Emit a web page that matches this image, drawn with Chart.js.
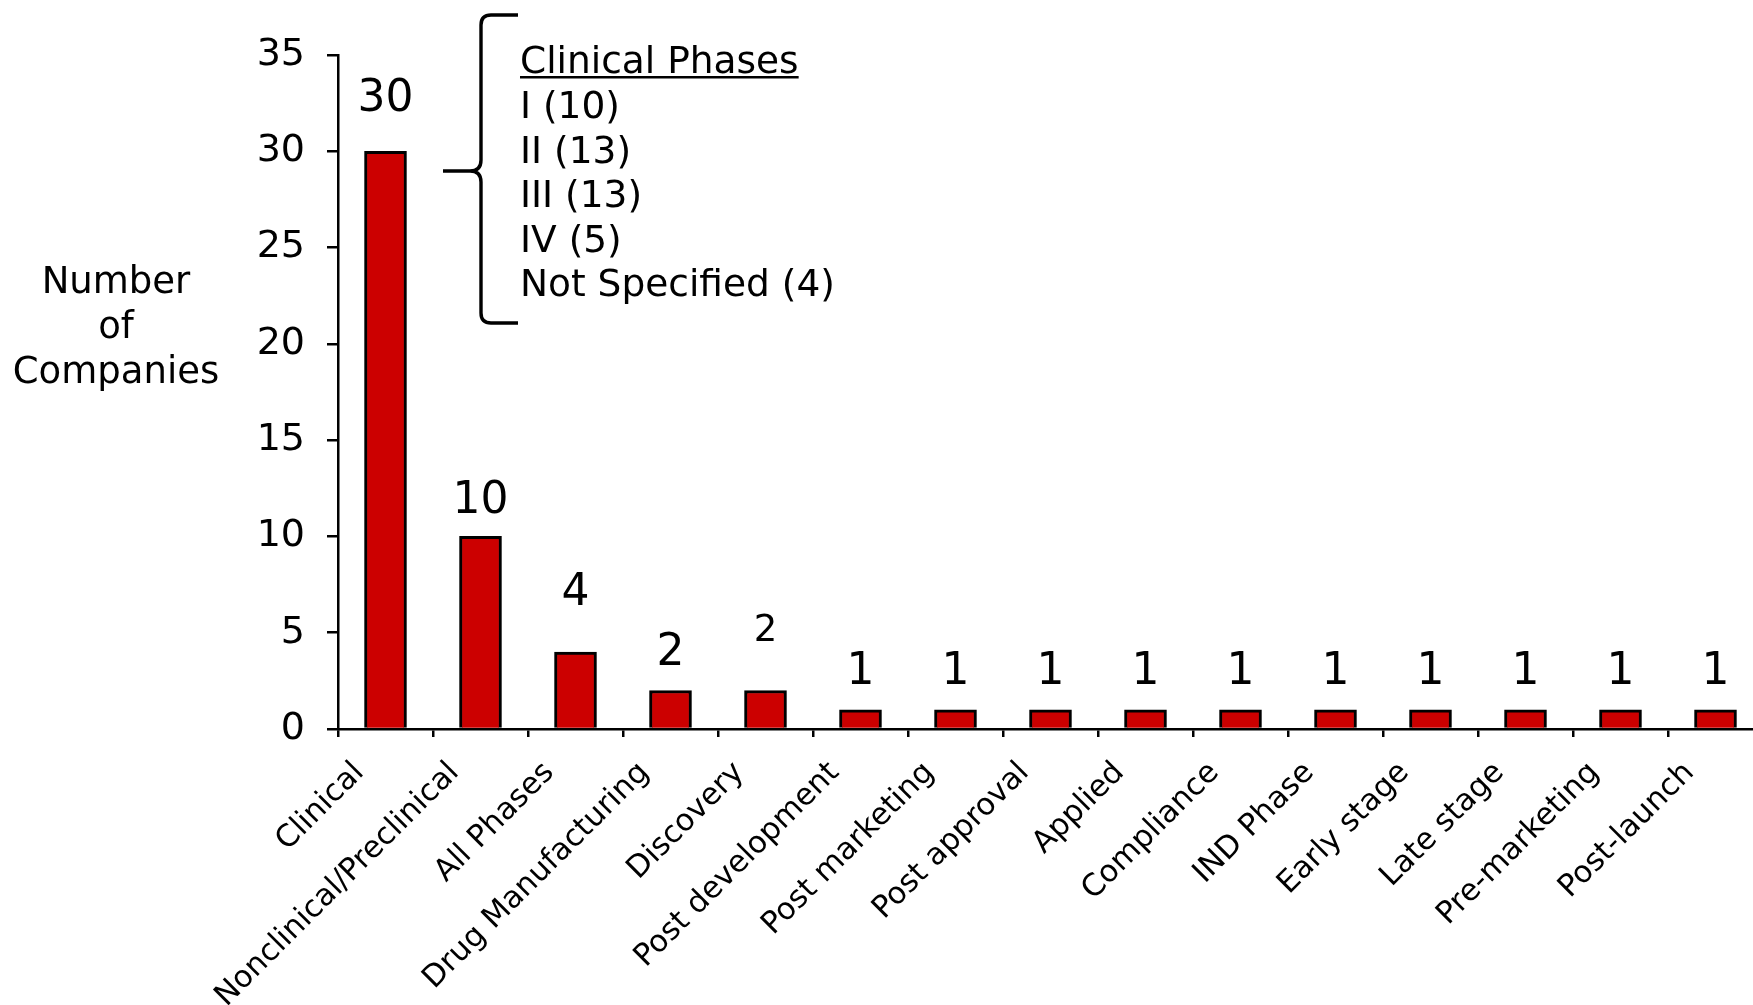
<!DOCTYPE html>
<html>
<head>
<meta charset="utf-8">
<script src="https://cdn.jsdelivr.net/npm/chart.js@4"></script>
<style>
  html, body { margin: 0; padding: 0; background: #fff; overflow: hidden; width: 1753px; height: 1005px; }
  #wrap { width: 1763px; height: 1005px; position: relative; }
</style>
</head>
<body>
<div id="wrap"><canvas id="c"></canvas></div>
<script>
const categories = ["Clinical", "Nonclinical/Preclinical", "All Phases", "Drug Manufacturing", "Discovery",
  "Post development", "Post marketing", "Post approval", "Applied", "Compliance", "IND Phase",
  "Early stage", "Late stage", "Pre-marketing", "Post-launch"];
const companyCounts = [30, 10, 4, 2, 2, 1, 1, 1, 1, 1, 1, 1, 1, 1, 1];
const yTickValues = [0, 5, 10, 15, 20, 25, 30, 35];
const yAxisTitle = ["Number", "of", "Companies"];
const phaseHeading = "Clinical Phases";
const phaseLines = ["I (10)", "II (13)", "III (13)", "IV (5)", "Not Specified (4)"];

const FONT = "'DejaVu Sans', Verdana, sans-serif";

const decorPlugin = {
  id: 'decor',
  afterDraw(chart, args, opts) {
    const ctx = chart.ctx;
    ctx.save();
    ctx.fillStyle = '#000';
    // y-axis title
    ctx.font = '37px ' + FONT;
    ctx.textAlign = 'center';
    ctx.textBaseline = 'alphabetic';
    yAxisTitle.forEach((t, i) => ctx.fillText(t, 116, 293 + i * 45));
    // value labels
    const meta = chart.getDatasetMeta(0);
    meta.data.forEach((bar, i) => {
      const size = opts.labelSizes[i];
      ctx.font = size + 'px ' + FONT;
      ctx.textAlign = 'center';
      ctx.textBaseline = 'alphabetic';
      ctx.fillText(String(companyCounts[i]), bar.x, bar.y - opts.labelGaps[i]);
    });
    // annotation text
    ctx.font = '37.5px ' + FONT;
    ctx.textAlign = 'left';
    const tx = 520;
    ctx.fillText(phaseHeading, tx, 73);
    const w = ctx.measureText(phaseHeading).width;
    ctx.fillRect(tx, 76, w, 2.5);
    phaseLines.forEach((t, i) => ctx.fillText(t, tx, 118 + i * 44.6));
    // brace
    ctx.strokeStyle = '#000';
    ctx.lineWidth = 3.4;
    ctx.lineCap = 'butt';
    ctx.lineJoin = 'round';
    ctx.beginPath();
    ctx.moveTo(518, 15);
    ctx.lineTo(491, 15);
    ctx.quadraticCurveTo(481, 15, 481, 25);
    ctx.lineTo(481, 160);
    ctx.quadraticCurveTo(481, 171, 470, 171);
    ctx.lineTo(443, 171);
    ctx.moveTo(470, 171);
    ctx.quadraticCurveTo(481, 171, 481, 182);
    ctx.lineTo(481, 313);
    ctx.quadraticCurveTo(481, 323, 491, 323);
    ctx.lineTo(518, 323);
    ctx.stroke();
    ctx.restore();
  }
};

new Chart(document.getElementById('c'), {
  type: 'bar',
  data: {
    labels: categories,
    datasets: [{
      data: companyCounts,
      backgroundColor: '#CC0000',
      borderColor: '#000000',
      borderWidth: 3,
      barThickness: 42,
      borderSkipped: 'bottom'
    }]
  },
  options: {
    responsive: true,
    maintainAspectRatio: false,
    animation: false,
    layout: { padding: { top: 55, right: 0, left: 0, bottom: 0 } },
    plugins: {
      legend: { display: false },
      tooltip: { enabled: false },
      decor: {
        labelGaps: [40, 23, 47, 25, 49, 26, 26, 26, 26, 26, 26, 26, 26, 26, 26],
        labelSizes: [44, 44, 44, 44, 37, 44, 44, 44, 44, 44, 44, 44, 44, 44, 44]
      }
    },
    scales: {
      x: {
        type: 'category',
        offset: true,
        grid: { display: true, offset: true, drawOnChartArea: false, drawTicks: true,
                tickLength: 8, color: '#000', lineWidth: 2.5 },
        border: { display: true, color: '#000', width: 2.5 },
        ticks: {
          autoSkip: false, minRotation: 45, maxRotation: 45,
          labelOffset: -26, padding: 18,
          color: '#000', font: { family: FONT, size: 30.5 }
        },
        afterFit(scale) { scale.height = 276; scale.paddingLeft = 0; scale.paddingRight = 0; }
      },
      y: {
        min: 0, max: 35,
        afterBuildTicks(scale) { scale.ticks = yTickValues.map(v => ({ value: v })); },
        grid: { display: true, drawOnChartArea: false, drawTicks: true,
                tickLength: 11, color: '#000', lineWidth: 2.5 },
        border: { display: true, color: '#000', width: 2.5 },
        ticks: { padding: 22, color: '#000', font: { family: FONT, size: 38 } },
        afterFit(scale) { scale.width = 338; scale.paddingTop = 0; scale.paddingBottom = 0; }
      }
    }
  },
  plugins: [decorPlugin]
});
</script>
</body>
</html>
